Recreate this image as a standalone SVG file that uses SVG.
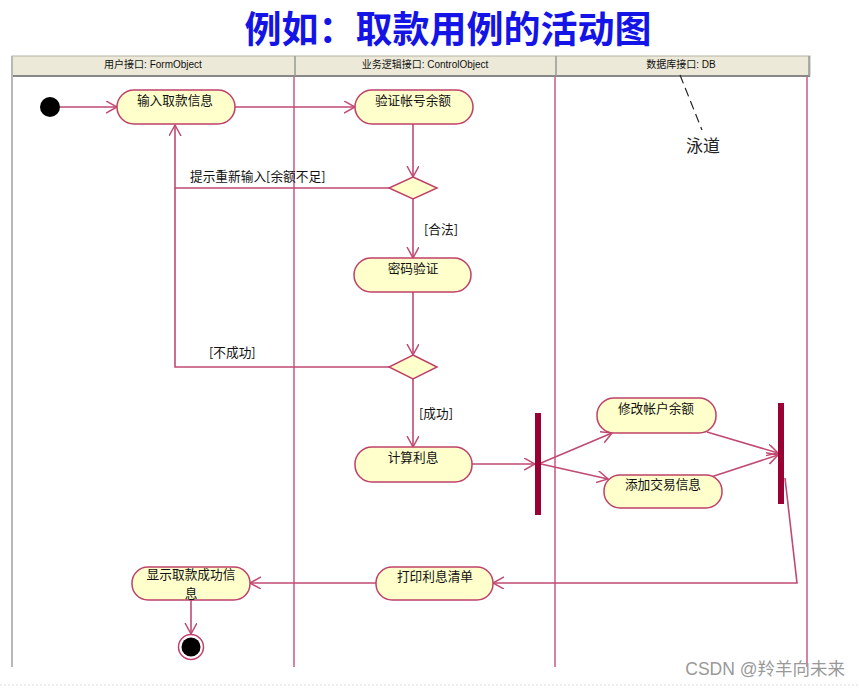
<svg xmlns="http://www.w3.org/2000/svg" width="859" height="688" viewBox="0 0 859 688">
<defs>
<style>
.lane{stroke:#c85a80;stroke-width:1.5;fill:none}
.hdr{font-family:"Liberation Sans","Noto Sans CJK SC",sans-serif;font-size:10px;fill:#111;text-anchor:middle}
.node rect{fill:#ffffcc;stroke:#c0406a;stroke-width:1.5}
.lbl{font-family:"Noto Sans CJK SC",sans-serif;font-size:12.7px;fill:#111;text-anchor:middle}
.guard{font-family:"Noto Sans CJK SC",sans-serif;font-size:12.7px;fill:#111}
.edge{stroke:#c04a72;stroke-width:1.6;fill:none}
.bar{fill:#990033}
.dia{fill:#ffffcc;stroke:#c0406a;stroke-width:1.5}
</style>
<marker id="arr" markerUnits="userSpaceOnUse" markerWidth="14" markerHeight="14" refX="11" refY="6" orient="auto">
<path d="M0,0 L11,6 L0,12" fill="none" stroke="#c04a72" stroke-width="1.5"/>
</marker>
</defs>
<rect width="859" height="688" fill="#ffffff"/>
<text x="448" y="43" font-family="Noto Sans CJK SC,sans-serif" font-size="37" font-weight="bold" fill="#1414e6" text-anchor="middle">例如：取款用例的活动图</text>

<g id="swimlanes">
<rect x="12" y="56" width="798" height="20" fill="#ece9d8" stroke="#b5b2a6" stroke-width="1"/>
<line x1="12" y1="76" x2="810" y2="76" stroke="#888" stroke-width="2"/>
<line x1="295" y1="56" x2="295" y2="76" stroke="#999" stroke-width="1.5"/>
<line x1="556" y1="56" x2="556" y2="76" stroke="#999" stroke-width="1.5"/>
<line x1="809" y1="56" x2="809" y2="76" stroke="#999" stroke-width="1.5"/>
<text class="hdr" x="153" y="68">用户接口: FormObject</text>
<text class="hdr" x="425" y="68">业务逻辑接口: ControlObject</text>
<text class="hdr" x="681" y="68">数据库接口: DB</text>
<line x1="12" y1="56" x2="12" y2="667" stroke="#b8b8b8" stroke-width="2"/>
<line class="lane" x1="294" y1="77" x2="294" y2="667"/>
<line class="lane" x1="555" y1="77" x2="555" y2="667"/>
<line class="lane" x1="807" y1="77" x2="807" y2="667"/>
<line x1="680" y1="75" x2="702" y2="130" stroke="#222" stroke-width="1.2" stroke-dasharray="9,5"/>
<text x="703" y="152" font-family="Noto Sans CJK SC,sans-serif" font-size="17" fill="#222" text-anchor="middle">泳道</text>
</g>

<g id="connectors">
<line class="edge" x1="60" y1="107" x2="117" y2="107" marker-end="url(#arr)"/>
<line class="edge" x1="235" y1="107" x2="355" y2="107" marker-end="url(#arr)"/>
<line class="edge" x1="413" y1="124" x2="413" y2="177" marker-end="url(#arr)"/>
<polyline class="edge" points="389,188 175,188 175,125" marker-end="url(#arr)"/>
<text class="guard" x="190" y="181">提示重新输入[余额不足]</text>
<line class="edge" x1="413" y1="199" x2="413" y2="258" marker-end="url(#arr)"/>
<text class="guard" x="424" y="234">[合法]</text>
<line class="edge" x1="413" y1="292" x2="413" y2="355" marker-end="url(#arr)"/>
<polyline class="edge" points="389,367 175,367 175,188"/>
<text class="guard" x="209" y="357">[不成功]</text>
<line class="edge" x1="413" y1="378" x2="413" y2="447" marker-end="url(#arr)"/>
<text class="guard" x="419" y="418">[成功]</text>
<line class="edge" x1="472" y1="464" x2="535" y2="464" marker-end="url(#arr)"/>
<line class="edge" x1="541" y1="463" x2="612" y2="433" marker-end="url(#arr)"/>
<line class="edge" x1="541" y1="464" x2="608" y2="479" marker-end="url(#arr)"/>
<line class="edge" x1="707" y1="432" x2="778" y2="453" marker-end="url(#arr)"/>
<line class="edge" x1="711" y1="477" x2="778" y2="455" marker-end="url(#arr)"/>
<polyline class="edge" points="785,478 797,583 493,583" marker-end="url(#arr)"/>
<line class="edge" x1="376" y1="583" x2="250" y2="583" marker-end="url(#arr)"/>
<line class="edge" x1="191" y1="600" x2="191" y2="634" marker-end="url(#arr)"/>
</g>

<g id="start"><circle cx="50" cy="107" r="10" fill="#000"/></g>
<g id="n_input" class="node"><rect x="117" y="90" width="118" height="34" rx="17"/><text class="lbl" x="175" y="105">输入取款信息</text></g>
<g id="n_verify" class="node"><rect x="355" y="90" width="118" height="34" rx="17"/><text class="lbl" x="413" y="105">验证帐号余额</text></g>
<g id="d1"><polygon class="dia" points="413,177 437,188 413,199 389,188"/></g>
<g id="n_pwd" class="node"><rect x="354" y="258" width="117" height="34" rx="17"/><text class="lbl" x="413" y="273">密码验证</text></g>
<g id="d2"><polygon class="dia" points="413,355 437,367 413,379 389,367"/></g>
<g id="n_calc" class="node"><rect x="355" y="447" width="117" height="35" rx="17"/><text class="lbl" x="413" y="462">计算利息</text></g>
<g id="fork"><rect class="bar" x="535" y="413" width="6" height="102"/></g>
<g id="n_modify" class="node"><rect x="597" y="398" width="119" height="35" rx="17"/><text class="lbl" x="656" y="413">修改帐户余额</text></g>
<g id="n_add" class="node"><rect x="604" y="475" width="118" height="33" rx="16"/><text class="lbl" x="663" y="489">添加交易信息</text></g>
<g id="join"><rect class="bar" x="778" y="403" width="6" height="101"/></g>
<g id="n_print" class="node"><rect x="376" y="567" width="117" height="33" rx="16"/><text class="lbl" x="435" y="581">打印利息清单</text></g>
<g id="n_show" class="node"><rect x="132" y="567" width="118" height="33" rx="16"/><text class="lbl" x="191" y="579" font-size="12.2">显示取款成功信</text><text class="lbl" x="191" y="597.5" font-size="12.2">息</text></g>
<g id="end"><circle cx="191" cy="647" r="12.5" fill="#fff" stroke="#c0406a" stroke-width="1.5"/><circle cx="191" cy="647" r="9.5" fill="#000"/></g>

<line x1="0" y1="685" x2="859" y2="685" stroke="#eeeeee" stroke-width="2" stroke-dasharray="2,2"/>
<text x="845" y="675" font-family="Liberation Sans,Noto Sans CJK SC,sans-serif" font-size="17.5" fill="#999" text-anchor="end">CSDN @羚羊向未来</text>
</svg>
